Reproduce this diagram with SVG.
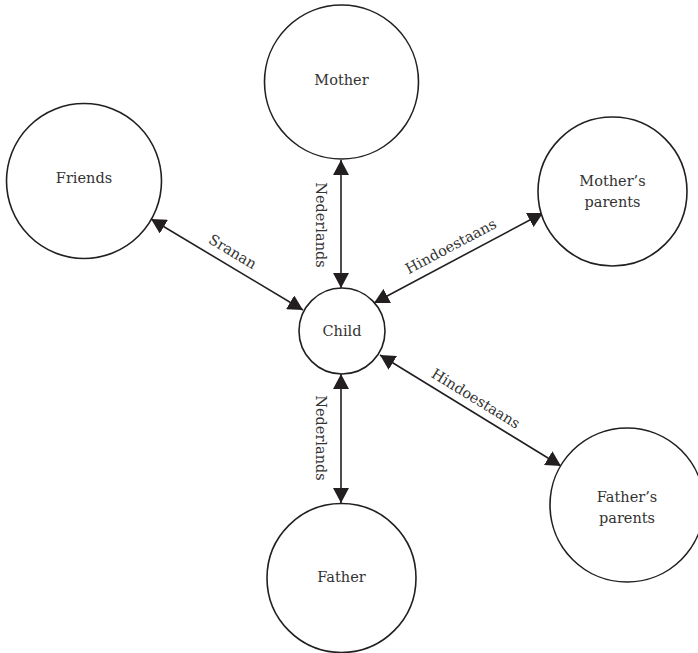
<svg xmlns="http://www.w3.org/2000/svg" width="698" height="653" viewBox="0 0 698 653">
<style>
.node{fill:#fff;stroke:#231f20;stroke-width:1.6}
.lbl{font-family:"DejaVu Serif","Liberation Serif",serif;font-size:14.5px;fill:#333;text-anchor:middle}
.edge{stroke:#231f20;stroke-width:1.6;fill:none;marker-start:url(#ah);marker-end:url(#ah)}
</style>
<defs>
<marker id="ah" viewBox="0 0 15 16" refX="15" refY="8" markerWidth="15" markerHeight="16" markerUnits="userSpaceOnUse" orient="auto-start-reverse">
<path d="M0,0 L15,8 L0,16 z" fill="#231f20"/>
</marker>
</defs>
<rect width="698" height="653" fill="#fff"/>
<g id="connectors">
<line class="edge" x1="341" y1="160" x2="341" y2="288"/>
<line class="edge" x1="341" y1="374" x2="341" y2="503"/>
<line class="edge" x1="151" y1="219" x2="303" y2="310"/>
<line class="edge" x1="543" y1="213" x2="374" y2="303"/>
<line class="edge" x1="380" y1="355" x2="561" y2="466"/>
<text class="lbl" transform="translate(316,225) rotate(90)">Nederlands</text>
<text class="lbl" transform="translate(316,438) rotate(90)">Nederlands</text>
<text class="lbl" transform="translate(225.5,263.6) rotate(30.9)" y="-9">Sranan</text>
<text class="lbl" transform="translate(457.3,258.6) rotate(-28)" y="-9">Hindoestaans</text>
<text class="lbl" transform="translate(469,409.6) rotate(31.5)" y="-8">Hindoestaans</text>
</g>
<g id="mother">
<circle class="node" cx="341.5" cy="82" r="77"/>
<text class="lbl" x="341.5" y="85">Mother</text>
</g>
<g id="friends">
<circle class="node" cx="84" cy="181" r="77.5"/>
<text class="lbl" x="84" y="183">Friends</text>
</g>
<g id="mothers-parents">
<circle class="node" cx="612.5" cy="191.5" r="74.5"/>
<text class="lbl" x="612.5" y="186">Mother’s</text>
<text class="lbl" x="612.5" y="207">parents</text>
</g>
<g id="child">
<circle class="node" cx="342" cy="331" r="43"/>
<text class="lbl" x="342" y="336">Child</text>
</g>
<g id="fathers-parents">
<circle class="node" cx="627" cy="505" r="77"/>
<text class="lbl" x="627" y="502">Father’s</text>
<text class="lbl" x="627" y="523">parents</text>
</g>
<g id="father">
<circle class="node" cx="341.5" cy="578" r="74.5"/>
<text class="lbl" x="341.5" y="582">Father</text>
</g>
</svg>
